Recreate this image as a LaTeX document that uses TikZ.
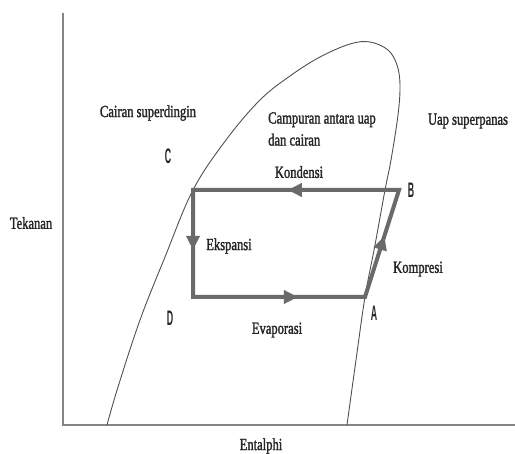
\documentclass[tikz,border=0pt]{standalone}
\usepackage{fontspec}
\setmainfont{Liberation Serif}
\newfontfamily\lblfont[FakeStretch=0.74,FakeBold=1.6]{Liberation Serif}
\newfontfamily\ptfont[FakeStretch=0.42]{Liberation Sans}
\usetikzlibrary{arrows.meta,decorations.markings}
\definecolor{cyc}{HTML}{6A6A6A}
\definecolor{axc}{HTML}{858585}
\definecolor{domec}{HTML}{505050}
\begin{document}
\begin{tikzpicture}[x=1pt,y=-1pt,
  every node/.style={font=\lblfont\fontsize{17}{22}\selectfont,inner sep=0pt,text=black!85},
  letter/.style={font=\ptfont\bfseries\fontsize{21}{21}\selectfont},
  axis/.style={draw=axc,line width=1.6pt},
  dome/.style={draw=domec,line width=0.9pt},
  cyc line/.style={draw=cyc,line width=4pt,line join=miter},
  arrowon/.style={color=cyc,line width=4pt,postaction={decorate},
    decoration={markings,mark=at position #1 with {\arrow{Triangle[length=14pt,width=13pt]}}}}]
  \useasboundingbox (0,0) rectangle (515,454);
  % axes
  \coordinate (top) at (63,13);
  \coordinate (org) at (63,425);
  \coordinate (right) at (515,425);
  \draw[axis] (top) -- (org) -- (right);
  % saturation dome
  \draw[dome] plot[smooth,tension=0.6] coordinates {(107,425) (118,387) (140,320) (165,257) (193,190)
    (226,140) (260,100) (290,76) (320,57) (350,44) (370,42) (388,50) (397,65) (400,85) (398,115)
    (391,160) (385,190) (375,245) (365,297) (356,360) (347,425)};
  % refrigeration cycle
  \coordinate (B) at (399,190);
  \coordinate (A) at (365,297);
  \coordinate (pc) at (193,190);
  \coordinate (pd) at (193,297);
  \draw[cyc line] (B) -- (pc) -- (pd) -- (A) -- cycle;
  \path[arrowon=0.54] (B) -- (pc);
  \path[arrowon=0.56] (pc) -- (pd);
  \path[arrowon=0.61] (pd) -- (A);
  \path[arrowon=0.57] (A) -- (B);
  % labels
  \node (sub) at (148,113) {Cairan superdingin};
  \node[letter] (lc) at (168,156) {C};
  \node[anchor=west,align=left] (mix) at (268,129) {Campuran antara uap\\dan cairan};
  \node (sup) at (468,121) {Uap superpanas};
  \node (kon) at (299,172) {Kondensi};
  \node[letter] (lb) at (411,190) {B};
  \node (tek) at (31,223) {Tekanan};
  \node (eks) at (229,246) {Ekspansi};
  \node (kom) at (418,269) {Kompresi};
  \node[letter] (la) at (374,313) {A};
  \node[letter] (ld) at (170,318) {D};
  \node (eva) at (277,330) {Evaporasi};
  \node (ent) at (261,446) {Entalphi};
\end{tikzpicture}
\end{document}
